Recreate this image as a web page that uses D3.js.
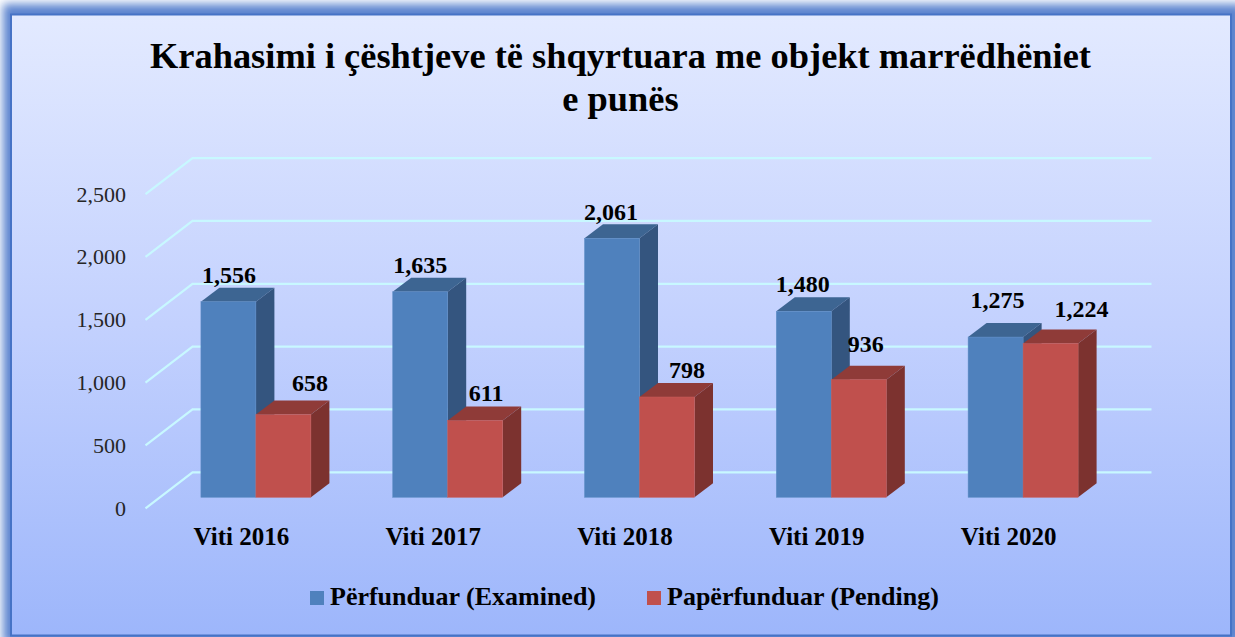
<!DOCTYPE html>
<html>
<head>
<meta charset="utf-8">
<script src="https://cdn.jsdelivr.net/npm/d3@7"></script>
<style>
  html, body { margin: 0; padding: 0; background: #fff; overflow: hidden; }
  svg { display: block; }
  text { font-family: "Liberation Serif", serif; }
</style>
</head>
<body>
<div id="chart"></div>
<script>
// data
var categories = ["Viti 2016", "Viti 2017", "Viti 2018", "Viti 2019", "Viti 2020"];
var examined = [1556, 1635, 2061, 1480, 1275];
var pending = [658, 611, 798, 936, 1224];
var seriesNames = ["Përfunduar (Examined)", "Papërfunduar (Pending)"];
var yTicks = [0, 500, 1000, 1500, 2000, 2500];
var titleLines = ["Krahasimi i çështjeve të shqyrtuara me objekt marrëdhëniet", "e punës"];

var svgWidth = 1235;
var svgHeight = 637;

var svg = d3.select("#chart")
  .append("svg")
  .attr("width", svgWidth)
  .attr("height", svgHeight);

var defs = svg.append("defs");

var bgGrad = defs.append("linearGradient")
  .attr("id", "bg")
  .attr("x1", 0).attr("y1", 0).attr("x2", 0).attr("y2", 1);
bgGrad.append("stop").attr("offset", "0%").attr("stop-color", "#e3eaff");
bgGrad.append("stop").attr("offset", "50%").attr("stop-color", "#c3d1fe");
bgGrad.append("stop").attr("offset", "100%").attr("stop-color", "#9db6fb");

defs.append("filter")
  .attr("id", "glow")
  .attr("x", "-5%").attr("y", "-5%").attr("width", "110%").attr("height", "110%")
  .append("feGaussianBlur")
  .attr("stdDeviation", 5);

// frame with soft glow
svg.append("rect")
  .attr("x", 3).attr("y", 4)
  .attr("width", 1240).attr("height", 640)
  .attr("fill", "#5b84cf")
  .attr("filter", "url(#glow)");

svg.append("rect")
  .attr("x", 11).attr("y", 14.5)
  .attr("width", 1220).attr("height", 621)
  .attr("fill", "url(#bg)")
  .attr("stroke", "#4673c6")
  .attr("stroke-width", 2);

// bars stand on the front plane, gridlines run on the back wall
var bar3d = { dx: 18.5, dy: 14 };
var front = { dx: -14.5, dy: 11 };
var back = { dx: 32.5, dy: -25 };

var xScale = d3.scaleBand()
  .domain(categories)
  .range([160, 1119]);

var barWidth = 55;

var yScale = d3.scaleLinear()
  .domain([0, 2500])
  .range([497.3, 183.1]);

// gridlines
var gridGroup = svg.append("g");

yTicks.forEach(function(t) {
  var gridLine = d3.line();
  gridGroup.append("path")
    .attr("d", gridLine([
      [xScale.range()[0] + front.dx, yScale(t) + front.dy],
      [xScale.range()[0] + back.dx, yScale(t) + back.dy],
      [xScale.range()[1] + back.dx, yScale(t) + back.dy]
    ]))
    .attr("fill", "none")
    .attr("stroke", "#c8f8ff")
    .attr("stroke-width", 2.2);
});

// y axis
var leftAxis = d3.axisLeft(yScale)
  .tickValues(yTicks)
  .tickSize(0)
  .tickPadding(0)
  .tickFormat(d3.format(","));

var yAxisGroup = svg.append("g")
  .attr("transform", `translate(126, ${front.dy})`)
  .call(leftAxis);

yAxisGroup.select(".domain").remove();
yAxisGroup.selectAll("text")
  .attr("font-family", "Liberation Serif")
  .attr("font-size", "22px")
  .attr("fill", "#262626");

// x axis
var bottomAxis = d3.axisBottom(xScale)
  .tickSize(0)
  .tickPadding(0);

var xAxisGroup = svg.append("g")
  .attr("transform", `translate(${front.dx}, 527.5)`)
  .call(bottomAxis);

xAxisGroup.select(".domain").remove();
xAxisGroup.selectAll("text")
  .attr("font-family", "Liberation Serif")
  .attr("font-size", "25px")
  .attr("font-weight", "bold")
  .attr("fill", "#000");

// one box per value, blue first so the red one overlaps it
var palette = [
  { front: "#4f81bd", side: "#34557f", top: "#3d6592", edge: "#5f8dc6" },
  { front: "#c0504d", side: "#7c322f", top: "#8f3b38", edge: "#c85f5b" }
];

function drawBox(g, x, y0, y1, colors) {
  var area = d3.line();
  g.append("path")
    .attr("d", area([[x, y1], [x + bar3d.dx, y1 - bar3d.dy], [x + barWidth + bar3d.dx, y1 - bar3d.dy], [x + barWidth, y1]]) + "Z")
    .attr("fill", colors.top);
  g.append("path")
    .attr("d", area([[x + barWidth, y1], [x + barWidth + bar3d.dx, y1 - bar3d.dy], [x + barWidth + bar3d.dx, y0 - bar3d.dy], [x + barWidth, y0]]) + "Z")
    .attr("fill", colors.side);
  g.append("rect")
    .attr("x", x)
    .attr("y", y1)
    .attr("width", barWidth)
    .attr("height", y0 - y1)
    .attr("fill", colors.front)
    .attr("stroke", colors.edge)
    .attr("stroke-width", 0.5);
}

var barsGroup = svg.append("g");

categories.forEach(function(cat, i) {
  var cx = xScale(cat) + xScale.bandwidth() / 2;
  var g = barsGroup.append("g");
  drawBox(g, cx - barWidth, yScale(0), yScale(examined[i]), palette[0]);
  drawBox(g, cx, yScale(0), yScale(pending[i]), palette[1]);
});

// value labels were dragged by hand in the original, so each has its own nudge
var examinedNudge = [[0.5, 18.5], [0, 19], [-1, 18], [-1, 19], [2, 29]];
var pendingNudge = [[26.5, 23.6], [11, 20], [20, 19], [7, 28], [31, 26.5]];

function valueLabels(values, nudge, barOffset) {
  svg.append("g").selectAll("text")
    .data(values)
    .enter()
    .append("text")
    .attr("x", function(d, i) {
      return xScale(categories[i]) + xScale.bandwidth() / 2 + barOffset + nudge[i][0];
    })
    .attr("y", function(d, i) { return yScale(d) - nudge[i][1]; })
    .attr("text-anchor", "middle")
    .attr("font-size", "24px")
    .attr("font-weight", "bold")
    .attr("fill", "#000")
    .text(d3.format(","));
}

valueLabels(examined, examinedNudge, -barWidth / 2);
valueLabels(pending, pendingNudge, barWidth / 2);

// title
svg.append("g").selectAll("text")
  .data(titleLines)
  .enter()
  .append("text")
  .attr("x", 620.5)
  .attr("y", function(d, i) { return 68 + i * 43; })
  .attr("text-anchor", "middle")
  .attr("font-size", "36.4px")
  .attr("font-weight", "bold")
  .attr("fill", "#000")
  .text(function(d) { return d; });

// legend
var legendX = [310, 647];
var legend = svg.append("g").selectAll("g")
  .data(seriesNames)
  .enter()
  .append("g")
  .attr("transform", function(d, i) { return `translate(${legendX[i]}, 591)`; });

legend.append("rect")
  .attr("width", 14)
  .attr("height", 14)
  .attr("fill", function(d, i) { return palette[i].front; });

legend.append("text")
  .attr("x", 20)
  .attr("y", 14)
  .attr("font-size", "26px")
  .attr("font-weight", "bold")
  .attr("fill", "#000")
  .text(function(d) { return d; });
</script>
</body>
</html>
